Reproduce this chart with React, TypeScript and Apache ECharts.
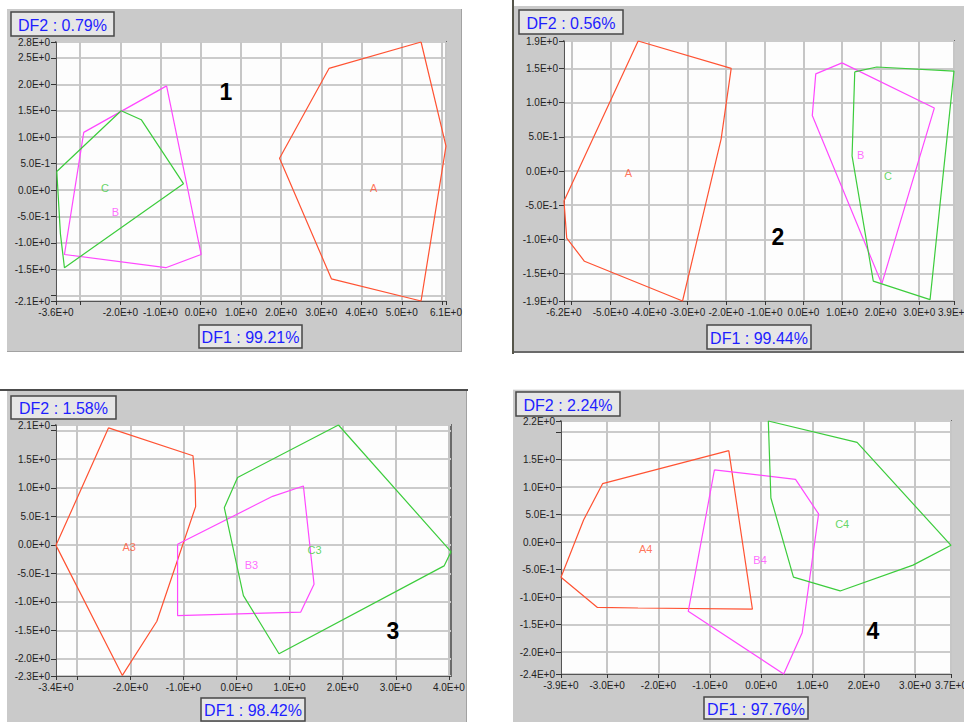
import React, { useEffect, useRef } from "react";
import * as echarts from "echarts";

// Group colours
const RED = "#ff5232";
const MAGENTA = "#ff48ff";
const GREEN = "#3ccc3c";

// ---------- Panel 1 ----------
const p1XTicks = [-3.6, -3, -2, -1, 0, 1, 2, 3, 4, 5, 6, 6.1];
const p1XLabels = [-3.6, -2, -1, 0, 1, 2, 3, 4, 5, 6.1];
const p1YTicks = [-2.1, -2, -1.5, -1, -0.5, 0, 0.5, 1, 1.5, 2, 2.5, 2.8];
const p1YLabels = [-2.1, -1.5, -1, -0.5, 0, 0.5, 1, 1.5, 2, 2.5, 2.8];
const p1A = [[5.48, 2.8], [3.19, 2.3], [1.96, 0.6], [3.25, -1.68], [5.48, -2.1], [6.1, 0.83], [5.48, 2.8]];
const p1B = [[-0.85, 1.97], [-2.91, 1.09], [-3.39, -1.22], [-0.87, -1.47], [0.01, -1.22], [-0.85, 1.97]];
const p1C = [[-3.58, 0.35], [-1.98, 1.5], [-1.48, 1.33], [-0.43, 0.12], [-3.39, -1.47], [-3.49, -0.83], [-3.58, 0.35]];
const p1Names = ["A", "B", "C"];
const p1NamePos = [[4.3, 0.04], [-2.12, -0.42], [-2.38, 0.04]];

// ---------- Panel 2 ----------
const p2XTicks = [-6.2, -6, -5, -4, -3, -2, -1, 0, 1, 2, 3, 3.9];
const p2XLabels = [-6.2, -5, -4, -3, -2, -1, 0, 1, 2, 3, 3.9];
const p2YTicks = [-1.9, -1.5, -1, -0.5, 0, 0.5, 1, 1.5, 1.9];
const p2YLabels = [-1.9, -1.5, -1, -0.5, 0, 0.5, 1, 1.5, 1.9];
const p2A = [[-4.28, 1.9], [-1.87, 1.5], [-2.13, 0.47], [-3.13, -1.9], [-5.67, -1.32], [-6.13, -0.98], [-6.2, -0.44], [-4.28, 1.9]];
const p2B = [[1.0, 1.58], [3.39, 0.92], [2.03, -1.65], [0.23, 0.81], [0.32, 1.42], [1.0, 1.58]];
const p2C = [[1.33, 1.45], [1.9, 1.52], [3.9, 1.46], [3.28, -1.88], [1.81, -1.61], [1.26, 0.22], [1.33, 1.45]];
const p2Names = ["A", "B", "C"];
const p2NamePos = [[-4.53, -0.03], [1.48, 0.24], [2.19, -0.07]];

// ---------- Panel 3 ----------
const p3XTicks = [-3.4, -3, -2, -1, 0, 1, 2, 3, 4];
const p3XLabels = [-3.4, -2, -1, 0, 1, 2, 3, 4];
const p3YTicks = [-2.3, -2, -1.5, -1, -0.5, 0, 0.5, 1, 1.5, 2, 2.1];
const p3YLabels = [-2.3, -2, -1.5, -1, -0.5, 0, 0.5, 1, 1.5, 2.1];
const p3A = [[-2.41, 2.05], [-0.82, 1.56], [-0.78, 1.1], [-0.77, 0.67], [-1.5, -1.34], [-2.15, -2.29], [-3.4, -0.01], [-2.41, 2.05]];
const p3B = [[-1.11, 0.01], [0.68, 0.85], [1.26, 1.03], [1.46, -0.69], [1.21, -1.18], [-1.11, -1.24], [-1.11, 0.01]];
const p3C = [[1.92, 2.1], [4.04, -0.12], [3.91, -0.37], [0.8, -1.91], [0.13, -0.89], [-0.23, 0.65], [0.02, 1.18], [1.92, 2.1]];
const p3Names = ["A3", "B3", "C3"];
const p3NamePos = [[-2.02, -0.03], [0.28, -0.35], [1.47, -0.09]];

// ---------- Panel 4 ----------
const p4XTicks = [-3.9, -3, -2, -1, 0, 1, 2, 3, 3.7];
const p4XLabels = [-3.9, -3, -2, -1, 0, 1, 2, 3, 3.7];
const p4YTicks = [-2.4, -2, -1.5, -1, -0.5, 0, 0.5, 1, 1.5, 2, 2.2];
const p4YLabels = [-2.4, -2, -1.5, -1, -0.5, 0, 0.5, 1, 1.5, 2.2];
const p4A = [[-0.63, 1.66], [-0.17, -1.22], [-2.4, -1.2], [-3.19, -1.19], [-3.9, -0.64], [-3.46, 0.4], [-3.09, 1.06], [-0.63, 1.66]];
const p4B = [[-0.91, 1.31], [0.67, 1.14], [1.12, 0.51], [0.8, -1.65], [0.44, -2.4], [-1.42, -1.26], [-0.91, 1.31]];
const p4C = [[0.14, 2.2], [1.87, 1.81], [3.7, -0.06], [2.96, -0.42], [1.54, -0.89], [0.63, -0.64], [0.19, 0.8], [0.14, 2.2]];
const p4Names = ["A4", "B4", "C4"];
const p4NamePos = [[-2.25, -0.13], [-0.02, -0.33], [1.58, 0.33]];

const df2Titles = ["DF2 : 0.79%", "DF2 : 0.56%", "DF2 : 1.58%", "DF2 : 2.24%"];
const df1Titles = ["DF1 : 99.21%", "DF1 : 99.44%", "DF1 : 98.42%", "DF1 : 97.76%"];
const panelNumbers = ["1", "2", "3", "4"];

const FONT = "'Liberation Sans', Arial, Helvetica, sans-serif";

const fmt = (v: number) => Number(v).toExponential(1).toUpperCase();

const panels = [
  {
    grid: { left: 56, top: 42, width: 390, height: 259 },
    xTicks: p1XTicks, xLabels: p1XLabels, yTicks: p1YTicks, yLabels: p1YLabels,
    polys: [p1A, p1B, p1C], names: p1Names, namePos: p1NamePos,
  },
  {
    grid: { left: 564, top: 41, width: 390, height: 260 },
    xTicks: p2XTicks, xLabels: p2XLabels, yTicks: p2YTicks, yLabels: p2YLabels,
    polys: [p2A, p2B, p2C], names: p2Names, namePos: p2NamePos,
  },
  {
    grid: { left: 56, top: 425, width: 395, height: 251 },
    xTicks: p3XTicks, xLabels: p3XLabels, yTicks: p3YTicks, yLabels: p3YLabels,
    xMax: 4.04,
    polys: [p3A, p3B, p3C], names: p3Names, namePos: p3NamePos,
  },
  {
    grid: { left: 561, top: 421, width: 390, height: 253 },
    xTicks: p4XTicks, xLabels: p4XLabels, yTicks: p4YTicks, yLabels: p4YLabels,
    polys: [p4A, p4B, p4C], names: p4Names, namePos: p4NamePos,
  },
];

const COLORS = [RED, MAGENTA, GREEN];

// Frames, title boxes and panel numbers (page coordinates)
const boxes = [
  { df2: [11, 12, 103, 24], df1: [199, 325, 103, 23], num: [226, 92] },
  { df2: [519, 10, 104, 24], df1: [707, 325, 104, 24], num: [778, 237] },
  { df2: [11, 396, 105, 23], df1: [201, 698, 104, 23], num: [393, 631] },
  { df2: [516, 392, 104, 24], df1: [704, 697, 104, 22], num: [873, 631] },
];

function buildOption() {
  const grid: any[] = [];
  const xAxis: any[] = [];
  const yAxis: any[] = [];
  const series: any[] = [];

  panels.forEach((p: any, i) => {
    grid.push({
      ...p.grid,
      show: true,
      backgroundColor: "#fdfdfd",
      borderColor: "#6a6a6a",
      borderWidth: 2,
      containLabel: false,
      outerBoundsMode: "none",
    });
    const xMin = p.xTicks[0];
    const xMax = p.xMax ?? p.xTicks[p.xTicks.length - 1];
    const yMin = p.yTicks[0];
    const yMax = p.yTicks[p.yTicks.length - 1];
    const labelStyle = {
      show: true,
      formatter: fmt,
      hideOverlap: false,
      fontSize: 10,
      color: "#222",
      fontFamily: FONT,
    };
    xAxis.push({
      type: "value",
      gridIndex: i,
      min: xMin,
      max: xMax,
      axisLine: { show: true, onZero: false, lineStyle: { color: "#555", width: 1 } },
      axisTick: {
        show: true,
        length: 4,
        customValues: p.xTicks,
        lineStyle: { color: "#333", width: 1 },
      },
      axisLabel: { ...labelStyle, customValues: p.xLabels, margin: 6 },
      splitLine: { show: true, lineStyle: { color: "#c6c6c6", width: 2 } },
    });
    yAxis.push({
      type: "value",
      gridIndex: i,
      min: yMin,
      max: yMax,
      axisLine: { show: true, onZero: false, lineStyle: { color: "#555", width: 1 } },
      axisTick: {
        show: true,
        length: 5,
        customValues: p.yTicks,
        lineStyle: { color: "#333", width: 1 },
      },
      axisLabel: { ...labelStyle, customValues: p.yLabels, margin: 6 },
      splitLine: { show: true, lineStyle: { color: "#cbcbcb", width: 2 } },
    });

    p.polys.forEach((poly: number[][], k: number) => {
      series.push({
        type: "line",
        name: p.names[k],
        xAxisIndex: i,
        yAxisIndex: i,
        data: poly,
        symbol: "none",
        clip: false,
        lineStyle: { color: COLORS[k], width: 1.2 },
        z: 3,
      });
    });

    series.push({
      type: "scatter",
      xAxisIndex: i,
      yAxisIndex: i,
      symbolSize: 1,
      itemStyle: { color: "rgba(0,0,0,0)" },
      data: p.names.map((n: string, k: number) => ({
        name: n,
        value: p.namePos[k],
        label: { color: COLORS[k] },
      })),
      label: {
        show: true,
        position: "inside",
        formatter: "{b}",
        fontSize: 11,
        fontFamily: FONT,
      },
      z: 4,
    });
  });

  const graphic: any[] = [];
  const bg = "#cacaca";
  const rect = (x: number, y: number, w: number, h: number, fill: string, z: number) => ({
    type: "rect",
    silent: true,
    z,
    shape: { x, y, width: w, height: h },
    style: { fill },
  });
  const line = (x1: number, y1: number, x2: number, y2: number, stroke: string, w: number, z: number) => ({
    type: "line",
    silent: true,
    z,
    shape: { x1, y1, x2, y2 },
    style: { stroke, lineWidth: w },
  });

  // panel backgrounds
  graphic.push(rect(7, 9, 455, 343, bg, -10));
  graphic.push(line(461.5, 9, 461.5, 352, "#a2a2a2", 1, -9));
  graphic.push(line(7, 351.5, 462, 351.5, "#a2a2a2", 1, -9));

  graphic.push(rect(514, 6, 450, 346, bg, -10));
  graphic.push(line(513, 0, 513, 354, "#55554a", 2, -9));
  graphic.push(line(514, 352, 964, 352, "#6a6a6a", 2, -9));

  graphic.push(rect(7, 391, 460, 331, bg, -10));
  graphic.push(line(0, 390, 468, 390, "#111", 1.5, -9));
  graphic.push(line(466.5, 391, 466.5, 722, "#a2a2a2", 1, -9));

  graphic.push(rect(513, 390, 451, 332, bg, -10));
  graphic.push(line(513, 389.5, 964, 389.5, "#eeeeee", 1, -9));

  boxes.forEach((b, i) => {
    [
      { r: b.df2, t: df2Titles[i] },
      { r: b.df1, t: df1Titles[i] },
    ].forEach(({ r, t }) => {
      graphic.push({
        type: "rect",
        silent: true,
        z: 50,
        shape: { x: r[0], y: r[1], width: r[2], height: r[3] },
        style: { fill: "#e6e6e6", stroke: "#474747", lineWidth: 1.5 },
      });
      graphic.push({
        type: "text",
        silent: true,
        z: 51,
        x: r[0] + r[2] / 2,
        y: r[1] + r[3] / 2 + 1,
        style: {
          text: t,
          fill: "#1e1eff",
          font: `16px ${FONT}`,
          textAlign: "center",
          textVerticalAlign: "middle",
        },
      });
    });
    graphic.push({
      type: "text",
      silent: true,
      z: 51,
      x: b.num[0],
      y: b.num[1],
      style: {
        text: panelNumbers[i],
        fill: "#000",
        font: `bold 23px ${FONT}`,
        textAlign: "center",
        textVerticalAlign: "middle",
      },
    });
  });

  return {
    animation: false,
    backgroundColor: "#ffffff",
    grid,
    xAxis,
    yAxis,
    series,
    graphic,
  };
}

export default function App() {
  const ref = useRef<HTMLDivElement>(null);
  useEffect(() => {
    if (!ref.current) return;
    const chart = echarts.init(ref.current, undefined, { renderer: "svg" });
    chart.setOption(buildOption() as any);
    return () => chart.dispose();
  }, []);
  return (
    <div
      ref={ref}
      style={{ position: "absolute", left: 0, top: 0, width: 964, height: 722 }}
    />
  );
}
